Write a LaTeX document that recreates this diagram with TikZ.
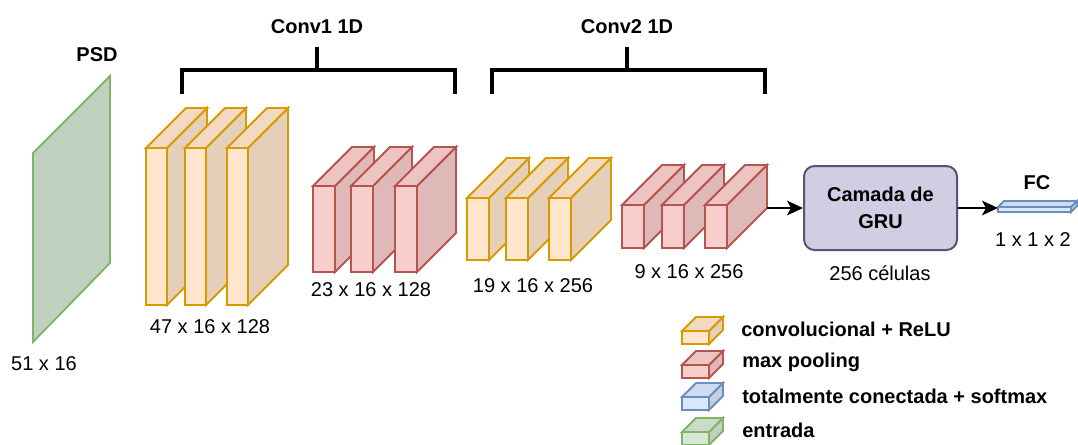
\documentclass[tikz,border=0pt]{standalone}
\usepackage{fontspec}
\setmainfont{Liberation Sans}
\usetikzlibrary{arrows.meta}

\definecolor{convfill}{HTML}{FFE6CC}\definecolor{convline}{HTML}{D79B00}
\definecolor{poolfill}{HTML}{F8CECC}\definecolor{poolline}{HTML}{B85450}
\definecolor{fcfill}{HTML}{DAE8FC}\definecolor{fcline}{HTML}{6C8EBF}
\definecolor{inpfill}{HTML}{D5E8D4}\definecolor{inpline}{HTML}{82B366}
\definecolor{grufill}{HTML}{D0CEE2}\definecolor{gruline}{HTML}{56517E}

% cube: name, x, y (top of front face), width, height, depth, fill, line
\newcommand{\drawcube}[8]{%
  \coordinate (#1) at (#2,#3);
  \filldraw[draw=#8, fill=#7!90!black, cubeedge]
    (#2+#4,#3) -- ++(#6,-#6) -- ++(0,#5) -- ++(-#6,#6) -- cycle;
  \filldraw[draw=#8, fill=#7!95!black, cubeedge]
    (#2,#3) -- ++(#6,-#6) -- ++(#4,0) -- ++(-#6,#6) -- cycle;
  \filldraw[draw=#8, fill=#7, cubeedge]
    (#2,#3) rectangle ++(#4,#5);
}

\tikzset{
  cubeedge/.style={line width=1.4pt, line join=miter},
  lbl/.style={font=\fontsize{15}{18}\selectfont, inner sep=0pt},
  blbl/.style={font=\fontsize{15}{18}\selectfont\bfseries, inner sep=0pt},
  bracketline/.style={line width=2.4pt, line cap=rect},
  flow/.style={line width=1.6pt, -{Stealth[length=12pt,width=11pt,inset=3pt]}},
  grubox/.style={draw=gruline, fill=grufill, line width=1.5pt, rounded corners=8pt,
    minimum width=114.75pt, minimum height=63pt, align=center,
    font=\fontsize{15}{18}\selectfont\bfseries},
}

\begin{document}
\begin{tikzpicture}[x=0.75pt,y=-0.75pt]
\useasboundingbox (0,0) rectangle (1078,444);

% input spectrum (PSD)
\filldraw[draw=inpline, fill=inpfill!90!black, line width=1.4pt]
  (33,153) -- (110,76) -- (110,263) -- (33,342) -- cycle;
\node[blbl] (psd) at (97,55) {PSD};
\node[lbl] (psddim) at (44,364) {51 x 16};

% first convolution
\drawcube{c1a}{146}{148}{21}{157}{40}{convfill}{convline}
\drawcube{c1b}{185}{148}{21}{157}{40}{convfill}{convline}
\drawcube{c1c}{227}{148}{21}{157}{40}{convfill}{convline}
\node[lbl] (c1dim) at (210,327) {47 x 16 x 128};

% first pooling
\drawcube{p1a}{313}{186}{22}{86}{39}{poolfill}{poolline}
\drawcube{p1b}{351}{186}{22}{86}{39}{poolfill}{poolline}
\drawcube{p1c}{395}{186}{22}{86}{39}{poolfill}{poolline}
\node[lbl] (p1dim) at (371,290) {23 x 16 x 128};

% second convolution
\drawcube{c2a}{467}{198}{22}{62}{40}{convfill}{convline}
\drawcube{c2b}{506}{198}{22}{62}{40}{convfill}{convline}
\drawcube{c2c}{549}{198}{22}{62}{40}{convfill}{convline}
\node[lbl] (c2dim) at (533,286) {19 x 16 x 256};

% second pooling
\drawcube{p2a}{622}{205}{22}{43}{40}{poolfill}{poolline}
\drawcube{p2b}{662}{205}{22}{43}{40}{poolfill}{poolline}
\drawcube{p2c}{705}{205}{22}{43}{40}{poolfill}{poolline}
\node[lbl] (p2dim) at (689,272) {9 x 16 x 256};

% brackets
\draw[bracketline] (182,92) -- (182,70) -- (455,70) -- (455,92);
\draw[bracketline] (317,70) -- (317,49);
\node[blbl] (conv1) at (317,27) {Conv1 1D};
\draw[bracketline] (492,92) -- (492,70) -- (765,70) -- (765,92);
\draw[bracketline] (627,70) -- (627,49);
\node[blbl] (conv2) at (627,27) {Conv2 1D};

% recurrent layer
\node[grubox] (gru) at (880.5,208) {Camada de\\[2pt]GRU};
\node[lbl] (gruinfo) at (880,273) {256 células};

% fully connected output
\drawcube{fc}{998}{207}{73}{5}{6}{fcfill}{fcline}
\coordinate (fcin) at (998,208);
\node[blbl] (fclbl) at (1037,183) {FC};
\node[lbl] (fcdim) at (1033,240) {1 x 1 x 2};

% connectors
\coordinate (p2out) at (767,208);
\draw[flow] (p2out) -- (gru.west);
\draw[flow] (gru.east) -- (fcin);

% legend
\drawcube{lg1}{682}{331}{27}{13}{14}{convfill}{convline}
\drawcube{lg2}{682}{365}{27}{13}{14}{poolfill}{poolline}
\drawcube{lg3}{682}{397}{27}{13}{14}{fcfill}{fcline}
\drawcube{lg4}{682}{432}{27}{13}{14}{inpfill}{inpline}
\node[blbl, anchor=west] (lt1) at (741,329) {convolucional + ReLU};
\node[blbl, anchor=west] (lt2) at (742,362) {max pooling};
\node[blbl, anchor=west] (lt3) at (742,396) {totalmente conectada + softmax};
\node[blbl, anchor=west] (lt4) at (742,430) {entrada};
\end{tikzpicture}
\end{document}
